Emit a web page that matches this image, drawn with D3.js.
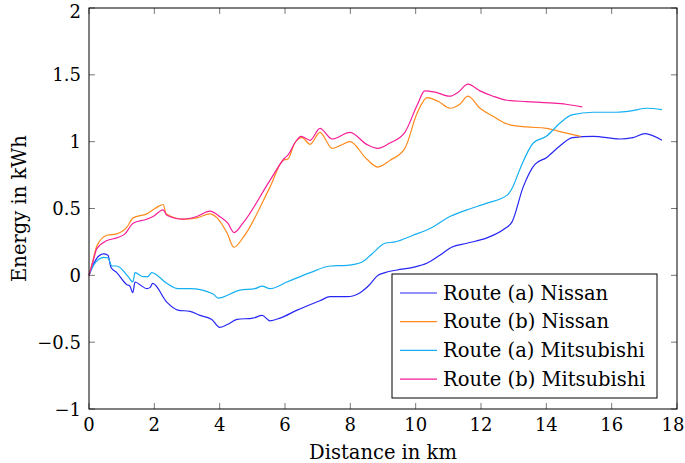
<!DOCTYPE html>
<html>
<head>
<meta charset="utf-8">
<script src="https://cdn.jsdelivr.net/npm/d3@7"></script>
<style>
body { margin:0; background:#fff; }
text { font-family: "DejaVu Serif", serif; fill:#000; }
</style>
</head>
<body>
<div id="chart"></div>
<script>
var W = 685, H = 463
var margin = {top: 8, right: 8, bottom: 54, left: 89}

var series_names = ["Route (a) Nissan", "Route (b) Nissan", "Route (a) Mitsubishi", "Route (b) Mitsubishi"]
var series_colors = ["#2626f5", "#ff8a1c", "#14b0f2", "#f51e98"]

var x_ticks = [0, 2, 4, 6, 8, 10, 12, 14, 16, 18]
var y_ticks = [-1, -0.5, 0, 0.5, 1, 1.5, 2]

// [km, kWh]
var nissan_a = [[0,0],[0.15,0.09],[0.3,0.145],[0.45,0.16],[0.58,0.15],[0.67,0.06],[0.85,0.02],[1.16,-0.07],[1.25,-0.08],[1.34,-0.13],
  [1.41,-0.05],[1.56,-0.07],[1.77,-0.1],[1.87,-0.09],[1.95,-0.06],[2.38,-0.2],[2.72,-0.26],[3.09,-0.27],[3.4,-0.3],
  [3.76,-0.33],[4.0,-0.39],[4.22,-0.37],[4.53,-0.33],[5.02,-0.32],[5.3,-0.3],[5.54,-0.34],[5.85,-0.32],[6.37,-0.26],
  [7.07,-0.19],[7.38,-0.16],[7.9,-0.16],[8.3,-0.13],[8.55,-0.08],[8.85,0.0],[9.06,0.02],[9.43,0.04],[9.92,0.06],
  [10.34,0.09],[10.74,0.15],[11.1,0.21],[11.57,0.24],[12.18,0.28],[12.73,0.35],[12.95,0.4],[13.29,0.66],[13.65,0.83],
  [14.0,0.88],[14.42,0.97],[14.8,1.03],[15.43,1.04],[16.25,1.02],[16.65,1.03],[17.02,1.06],[17.54,1.01]]

var nissan_b = [[0,0],[0.12,0.11],[0.24,0.22],[0.55,0.3],[0.85,0.31],[1.16,0.36],[1.35,0.43],[1.77,0.46],[2.02,0.5],[2.27,0.53],
  [2.36,0.46],[2.88,0.42],[3.3,0.43],[3.7,0.46],[3.92,0.43],[4.22,0.32],[4.44,0.21],[4.71,0.28],[5.54,0.66],[5.94,0.86],
  [6.09,0.87],[6.3,0.99],[6.52,1.03],[6.77,0.98],[7.07,1.07],[7.44,0.95],[7.68,0.97],[7.99,1.0],[8.5,0.87],[8.84,0.81],
  [9.21,0.86],[9.67,0.95],[10.04,1.21],[10.35,1.33],[10.7,1.3],[11.05,1.25],[11.35,1.28],[11.6,1.34],[11.97,1.25],
  [12.37,1.19],[12.83,1.13],[13.4,1.11],[14.0,1.1],[14.52,1.07],[15.05,1.04]]

var mitsubishi_a = [[0,0],[0.15,0.08],[0.3,0.12],[0.45,0.135],[0.58,0.13],[0.7,0.07],[0.85,0.07],[1.2,-0.01],[1.34,-0.05],
  [1.41,0.02],[1.66,-0.01],[1.8,-0.01],[1.92,0.02],[2.38,-0.06],[2.72,-0.1],[3.09,-0.1],[3.8,-0.14],[3.95,-0.17],
  [4.62,-0.11],[5.08,-0.1],[5.3,-0.08],[5.54,-0.1],[6.06,-0.05],[6.77,0.02],[7.38,0.07],[7.9,0.075],[8.36,0.1],
  [8.66,0.16],[9.06,0.24],[9.37,0.25],[9.92,0.3],[10.44,0.35],[11.05,0.44],[11.57,0.49],[12.18,0.54],[12.8,0.6],
  [12.95,0.65],[13.2,0.8],[13.6,0.99],[14.0,1.04],[14.42,1.14],[14.78,1.2],[15.43,1.22],[16.16,1.22],[16.6,1.23],
  [17.08,1.25],[17.54,1.24]]

var mitsubishi_b = [[0,0],[0.12,0.1],[0.24,0.2],[0.55,0.26],[0.85,0.28],[1.1,0.31],[1.35,0.39],[1.77,0.42],[1.96,0.44],[2.27,0.49],
  [2.38,0.45],[2.88,0.42],[3.3,0.44],[3.7,0.48],[4.0,0.44],[4.25,0.39],[4.44,0.32],[4.71,0.39],[5.54,0.71],[6.0,0.88],
  [6.09,0.9],[6.3,0.99],[6.49,1.04],[6.77,1.01],[7.07,1.1],[7.44,1.02],[7.99,1.07],[8.5,0.98],[8.84,0.95],[9.21,0.99],
  [9.67,1.07],[10.04,1.27],[10.28,1.38],[10.6,1.37],[11.05,1.34],[11.3,1.37],[11.6,1.43],[11.97,1.38],[12.37,1.34],
  [12.8,1.31],[13.4,1.3],[14.1,1.29],[14.6,1.28],[15.1,1.26]]

var all_series = [nissan_a, nissan_b, mitsubishi_a, mitsubishi_b]

var svg = d3.select("#chart").append("svg")
  .attr("width", W).attr("height", H)

var x = d3.scaleLinear().domain([0, 18]).range([margin.left, W - margin.right])
var y = d3.scaleLinear().domain([-1, 2]).range([H - margin.bottom, margin.top])

var tick_len = 6

// ticks on all four sides, pointing inward
var ticks = svg.append("g").attr("stroke", "#555").attr("stroke-width", 0.8)
x_ticks.forEach(function(t){
  ticks.append("line").attr("x1", x(t)).attr("x2", x(t)).attr("y1", y(-1)).attr("y2", y(-1) - tick_len)
  ticks.append("line").attr("x1", x(t)).attr("x2", x(t)).attr("y1", y(2)).attr("y2", y(2) + tick_len)
})
y_ticks.forEach(function(t){
  ticks.append("line").attr("y1", y(t)).attr("y2", y(t)).attr("x1", x(0)).attr("x2", x(0) + tick_len)
  ticks.append("line").attr("y1", y(t)).attr("y2", y(t)).attr("x1", x(18)).attr("x2", x(18) - tick_len)
})

var line = d3.line()
  .x(function(d){ return x(d[0]) })
  .y(function(d){ return y(d[1]) })
  .curve(d3.curveMonotoneX)

all_series.forEach(function(s, i){
  svg.append("path")
    .datum(s)
    .attr("fill", "none")
    .attr("stroke", series_colors[i])
    .attr("stroke-width", 1.2)
    .attr("d", line)
})

// frame
svg.append("rect")
  .attr("x", x(0)).attr("y", y(2))
  .attr("width", x(18) - x(0)).attr("height", y(-1) - y(2))
  .attr("fill", "none").attr("stroke", "#000").attr("stroke-width", 1)

var fmt = function(v){ return v < 0 ? "\u2212" + Math.abs(v) : String(v) }

// keep the edge labels inside the window
svg.append("g").selectAll("text")
  .data(x_ticks).enter().append("text")
  .attr("x", function(d){ return Math.min(x(d), W - 12) })
  .attr("y", y(-1) + 22)
  .attr("text-anchor", "middle")
  .attr("font-size", 18)
  .text(fmt)

svg.append("g").selectAll("text")
  .data(y_ticks).enter().append("text")
  .attr("x", x(0) - 8)
  .attr("y", function(d){ return Math.max(y(d) + 6.5, 18) })
  .attr("text-anchor", "end")
  .attr("font-size", 18)
  .text(fmt)

svg.append("text")
  .attr("x", (x(0) + x(18)) / 2)
  .attr("y", H - 4)
  .attr("text-anchor", "middle")
  .attr("font-size", 19.5)
  .text("Distance in km")

svg.append("text")
  .attr("transform", "translate(26," + y(0.5) + ") rotate(-90)")
  .attr("text-anchor", "middle")
  .attr("font-size", 19.5)
  .text("Energy in kWh")

// legend
var lg = svg.append("g")
lg.append("rect")
  .attr("x", 392).attr("y", 274).attr("width", 265).attr("height", 124)
  .attr("fill", "#fff").attr("stroke", "#000").attr("stroke-width", 1)

series_names.forEach(function(n, i){
  var ly = 293 + i * 28.7
  lg.append("line")
    .attr("x1", 400).attr("x2", 437).attr("y1", ly).attr("y2", ly)
    .attr("stroke", series_colors[i]).attr("stroke-width", 1.2)
  lg.append("text")
    .attr("x", 443).attr("y", ly + 6.5)
    .attr("font-size", 19.5)
    .text(n)
})
</script>
</body>
</html>
